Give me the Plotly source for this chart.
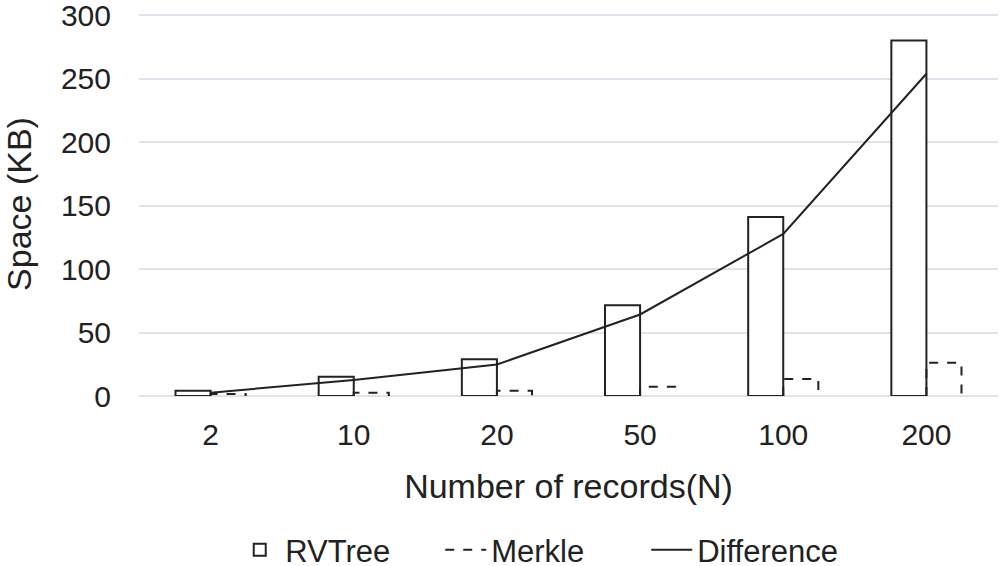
import plotly.graph_objects as go

categories = ["2", "10", "20", "50", "100", "200"]
rvtree = [4.2, 15.2, 29, 71.5, 141, 280]
merkle = [1.6, 2.6, 4.2, 7.3, 13.4, 26.2]
difference = [r - m for r, m in zip(rvtree, merkle)]
y_ticks = [0, 50, 100, 150, 200, 250, 300]

W = 0.245
xs = list(range(len(categories)))

# Merkle dashed outline path derived from data
mx, my = [], []
for i, m in zip(xs, merkle):
    mx += [i, i, i + W, i + W, None]
    my += [0, m, m, 0, None]

ink = "#222222"
fig = go.Figure()
fig.add_trace(go.Bar(
    x=xs, y=rvtree, name="RVTree", width=W, offset=-W,
    marker=dict(color="white", line=dict(color=ink, width=2)),
))
fig.add_trace(go.Scatter(
    x=mx, y=my, name="Merkle", mode="lines",
    line=dict(color=ink, width=2, dash="dash"),
))
fig.add_trace(go.Scatter(
    x=xs, y=difference, name="Difference", mode="lines",
    line=dict(color=ink, width=2),
))

font = "Liberation Sans, Arial, Helvetica, sans-serif"
grid = "#dfe3ec"
fig.update_layout(
    width=1001, height=566,
    margin=dict(l=139, r=3, t=12, b=170),
    paper_bgcolor="white", plot_bgcolor="white",
    font=dict(family=font, color=ink, size=30),
    showlegend=True,
    legend=dict(orientation="h", xref="container", yref="container",
                x=0.234, xanchor="left", y=0.028, yanchor="middle",
                font=dict(size=31), itemwidth=41, entrywidth=150, entrywidthmode="pixels",
                traceorder="normal"),
    xaxis=dict(range=[-0.5, 5.5], tickvals=xs, ticktext=categories, automargin=False,
               showgrid=False, zeroline=False, showline=False, ticks="",
               tickfont=dict(size=30), ticklabelstandoff=18,
               title=dict(text="Number of records(N)", font=dict(size=34), standoff=24)),
    yaxis=dict(range=[0, 302.4], tickvals=y_ticks, showgrid=True, gridcolor=grid,
               gridwidth=2, zeroline=True, zerolinecolor=grid, zerolinewidth=2,
               automargin=False, showline=False, ticks="", tickfont=dict(size=30),
               ticklabelstandoff=27, ticklabeloverflow="allow",
               title=dict(text="Space (KB)", font=dict(size=34), standoff=25)),
)
fig.write_html("out.html", config={"displayModeBar": False})

with open("out.html", "r", encoding="utf-8") as f:
    html = f.read()
html = html.replace("<body>", '<body style="margin:0;padding:0">', 1)
with open("out.html", "w", encoding="utf-8") as f:
    f.write(html)
